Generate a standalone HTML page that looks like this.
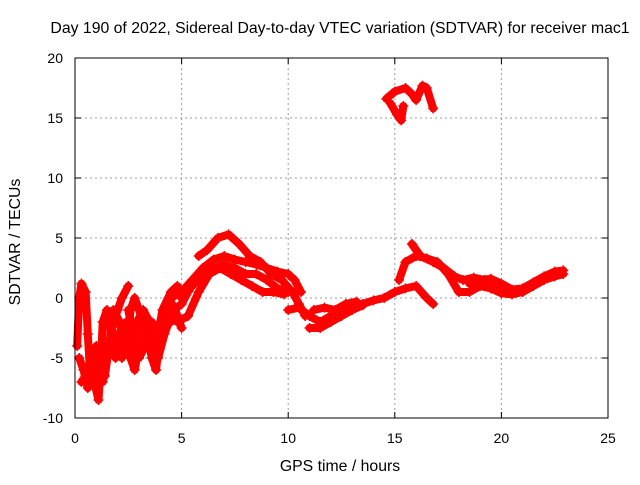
<!DOCTYPE html>
<html><head><meta charset="utf-8"><style>
body{margin:0;background:#fff}
svg text{font-family:"Liberation Sans",sans-serif;font-size:14px;fill:#000}
svg text.big{font-size:15.8px}
</style></head><body>
<svg id="chart" width="640" height="480" xmlns="http://www.w3.org/2000/svg">
<text class="big" x="340" y="33" text-anchor="middle">Day 190 of 2022, Sidereal Day-to-day VTEC variation (SDTVAR) for receiver mac1</text>
<text class="big" x="340" y="471" text-anchor="middle">GPS time / hours</text>
<text class="big" transform="translate(20,242) rotate(-90)" text-anchor="middle">SDTVAR / TECUs</text>
<g id="grid"></g><g id="ticks"></g><g id="marks"></g>
<rect x="75" y="58" width="533" height="360" fill="none" stroke="#000" stroke-width="1"/>
</svg>
<script>
const xTicks=[0,5,10,15,20,25];
const yTicks=[-10,-5,0,5,10,15,20];
const trackEarly1=[[0.1,-4],[0.2,0],[0.3,1.2],[0.5,0.5],[0.6,-3],[0.7,-6],[0.9,-7],[1.1,-8.5],[1.2,-6],[1.3,-2],[1.5,-1],[1.7,-3],[1.9,-5]];
const trackEarly2=[[0.3,-7],[0.5,-6.5],[0.8,-5],[1.0,-6],[1.3,-7],[1.5,-5],[1.8,-2],[2.0,-1],[2.2,0],[2.5,1]];
const trackEarly3=[[2.0,-3],[2.2,-5],[2.5,-4],[2.6,-1],[2.8,0],[3.0,-1],[3.2,-2],[3.4,-3],[3.6,-5],[3.8,-6],[4.0,-3],[4.2,-1],[4.5,-2]];
const trackEarly4=[[2.4,-2],[2.6,-5],[2.8,-6],[3.0,-4],[3.1,-2],[3.4,-3],[3.7,-4],[4.0,-2],[4.4,0],[4.7,-1],[5.0,-2.5]];
const trackEarly5=[[0.2,-5],[0.4,-6],[0.6,-7.5],[0.8,-6],[1.0,-4],[1.2,-5],[1.4,-6.5],[1.6,-4],[1.8,-1],[2.1,-2],[2.3,-4],[2.6,-3],[2.9,-2],[3.2,-1],[3.5,-2],[3.8,-4],[4.1,-1],[4.5,0.5],[4.8,1]];
const trackEarly6=[[2.5,-1],[2.7,-3],[3.0,-5],[3.3,-4],[3.6,-2],[3.9,-5],[4.2,-3],[4.6,-1],[5.0,-0.5],[5.3,0.5]];
const trackHump1=[[4.5,0],[5,0.5],[5.5,1.5],[6,2.5],[6.5,3.2],[7,3.5],[7.5,3.2],[8,3],[8.5,2.8],[9,2.5],[9.5,2.2],[10,2],[10.3,1.5],[10.6,0.5]];
const trackHump2=[[4.8,-2],[5.3,-1.5],[5.8,0.5],[6.3,2],[6.8,2.5],[7.3,2],[7.8,1.5],[8.3,1],[8.8,0.5],[9.3,0.5],[9.8,0.3]];
const trackHump3=[[5.8,3.5],[6.2,4],[6.7,5],[7.2,5.3],[7.7,4.5],[8.2,3.5],[8.7,3],[9.2,2],[9.7,1.5],[10.2,0.5],[10.5,-0.5],[10.8,-1.5]];
const trackHump4=[[5,0],[5.5,1],[6,2],[6.5,2.5],[7,2.8],[7.5,2.5],[8,2],[8.5,2],[9,1.5],[9.5,0.8],[10,0.5]];
const trackMid1=[[10,-1],[10.5,-0.8],[11,-1.5],[11.5,-2],[12,-1.5],[12.5,-1],[13,-0.5],[13.5,-0.5],[14,-0.2],[14.5,0],[15,0.5],[15.5,0.8],[16,1],[16.5,0],[16.8,-0.5]];
const trackMid2=[[11,-2.5],[11.5,-2.5],[12,-2],[12.5,-1.5],[13,-1],[13.5,-0.6]];
const trackMid3=[[11.2,-1],[11.7,-0.8],[12.2,-1],[12.7,-0.5],[13.2,-0.3]];
const trackLate1=[[15.2,1.5],[15.5,3],[16,3.5],[16.5,3.3],[17,3],[17.5,2],[18,0.5],[18.5,0.5],[19,1],[19.5,0.8],[20,0.4],[20.5,0.3],[21,0.5],[21.5,1],[22,1.5],[22.5,1.8],[22.9,2]];
const trackLate2=[[15.8,4.5],[16.2,3.5],[16.8,3],[17.3,2.5],[17.8,1.8],[18.2,1.5],[18.7,1.7],[19.2,1.5],[19.7,1],[20.3,0.6],[21,0.5]];
const trackLate3=[[18.5,1.2],[19,1.5],[19.5,1.6],[20,1.2],[20.5,0.7],[21,0.8],[21.5,1.3],[22,1.8],[22.5,2.2],[22.9,2.3]];
const trackTop1=[[14.6,16.6],[15,17.2],[15.5,17.5],[15.8,17],[16,16.5],[16.3,17.7],[16.5,17.5],[16.8,15.8]];
const trackTop2=[[14.8,16.2],[15.1,15.3],[15.3,14.8],[15.4,16]];
const tracks=[trackEarly1,trackEarly2,trackEarly3,trackEarly4,trackEarly5,trackEarly6,trackHump1,trackHump2,trackHump3,trackHump4,trackMid1,trackMid2,trackMid3,trackLate1,trackLate2,trackLate3,trackTop1,trackTop2];
const NS="http://www.w3.org/2000/svg";
const X0=75,X1=608,Y0=418,Y1=58;
function xs(v){return X0+(v-0)/(25-0)*(X1-X0);}
function ys(v){return Y0-(v+10)/(30)*(Y0-Y1);}
const grid=document.getElementById('grid'),tk=document.getElementById('ticks'),mk=document.getElementById('marks');
xTicks.forEach(t=>{
 const x=xs(t);
 if(t>0&&t<25){const l=document.createElementNS(NS,'line');
 
 
 l.setAttribute('x1',x);l.setAttribute('x2',x);l.setAttribute('y1',Y1);l.setAttribute('y2',Y0);
 l.setAttribute('stroke','#999');l.setAttribute('stroke-dasharray','2,3');grid.appendChild(l);}
 const s=document.createElementNS(NS,'path');
 
 
 s.setAttribute('d',`M${x},${Y0}v-6M${x},${Y1}v6`);s.setAttribute('stroke','#000');tk.appendChild(s);
 const tx=document.createElementNS(NS,'text');
 
 
 tx.setAttribute('x',x);tx.setAttribute('y',443);tx.setAttribute('text-anchor','middle');tx.textContent=t;tk.appendChild(tx);
});
yTicks.forEach(t=>{
 const y=ys(t);
 if(t>-10&&t<20){const l=document.createElementNS(NS,'line');
 
 
 l.setAttribute('x1',X0);l.setAttribute('x2',X1);l.setAttribute('y1',y);l.setAttribute('y2',y);
 l.setAttribute('stroke','#999');l.setAttribute('stroke-dasharray','2,3');grid.appendChild(l);}
 const s=document.createElementNS(NS,'path');
 
 
 s.setAttribute('d',`M${X0},${y}h6M${X1},${y}h-6`);s.setAttribute('stroke','#000');tk.appendChild(s);
 const tx=document.createElementNS(NS,'text');
 
 
 tx.setAttribute('x',63);tx.setAttribute('y',y+5);tx.setAttribute('text-anchor','end');tx.textContent=t;tk.appendChild(tx);
});
tracks.forEach(tr=>{
 const p=document.createElementNS(NS,'polyline');
 
 
 p.setAttribute('points',tr.map(d=>xs(d[0])+','+ys(d[1])).join(' '));
 p.setAttribute('fill','none');p.setAttribute('stroke','#f00');p.setAttribute('stroke-width','8');p.setAttribute('stroke-linejoin','round');p.setAttribute('stroke-linecap','round');
 mk.appendChild(p);
 tr.forEach(d=>{
  const m=document.createElementNS(NS,'path');
  
  
  const x=xs(d[0]),y=ys(d[1]);
  m.setAttribute('d',`M${x-5},${y}h10M${x},${y-5}v10`);m.setAttribute('stroke','#f00');m.setAttribute('stroke-width','1.5');
  mk.appendChild(m);
 });
});
</script>
</body></html>
